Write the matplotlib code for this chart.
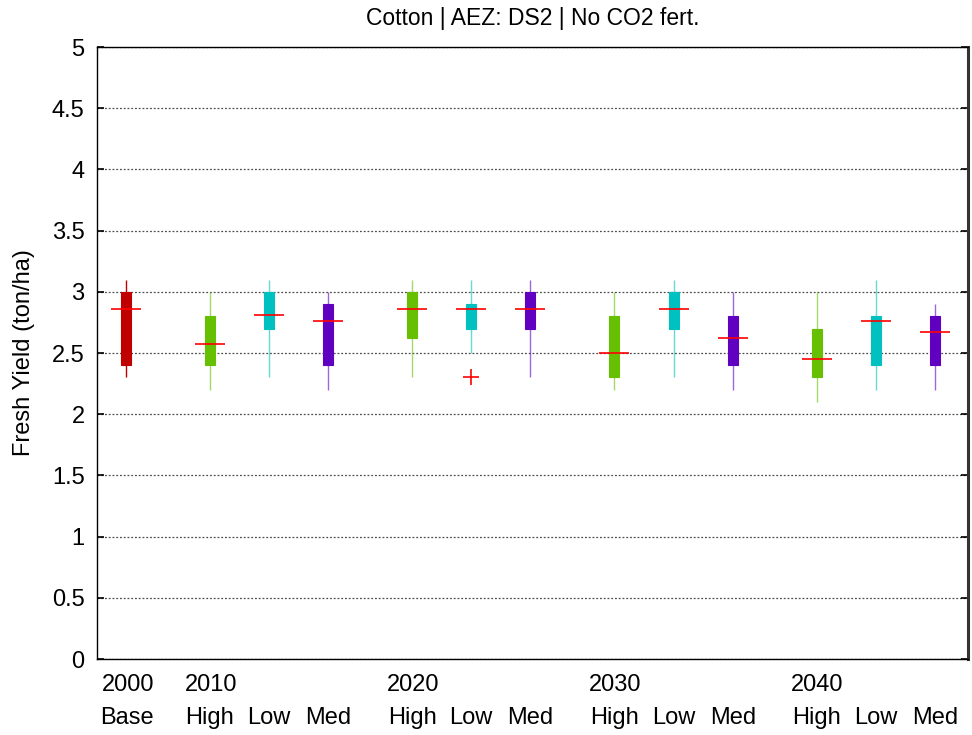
import matplotlib
matplotlib.use("Agg")
import matplotlib.pyplot as plt
from matplotlib.transforms import blended_transform_factory

plt.rcParams['font.family'] = ['Liberation Sans', 'DejaVu Sans']

# ---- data (ton/ha) ----
labels = ["Base", "High", "Low", "Med", "High", "Low", "Med",
          "High", "Low", "Med", "High", "Low", "Med"]
years = ["2000", "2010", "", "", "2020", "", "", "2030", "", "", "2040", "", ""]
whisker_low = [2.3, 2.2, 2.3, 2.2, 2.3, 2.5, 2.3, 2.2, 2.3, 2.2, 2.1, 2.2, 2.2]
q1 =          [2.4, 2.4, 2.7, 2.4, 2.62, 2.7, 2.7, 2.3, 2.7, 2.4, 2.3, 2.4, 2.4]
median =      [2.86, 2.57, 2.81, 2.76, 2.86, 2.86, 2.86, 2.5, 2.86, 2.62, 2.45, 2.76, 2.67]
q3 =          [3.0, 2.8, 3.0, 2.9, 3.0, 2.9, 3.0, 2.8, 3.0, 2.8, 2.7, 2.8, 2.8]
whisker_high = [3.1, 3.0, 3.1, 3.0, 3.1, 3.1, 3.1, 3.0, 3.1, 3.0, 3.0, 3.1, 2.9]
outlier_index = [5]
outlier_value = [2.3]

# ---- layout / style ----
scen_colors = {"Base": "#C00000", "High": "#66BF00", "Low": "#00C0C0", "Med": "#6000C0"}
base_pos = 28.7
group_start = 112.7
group_step = 202.3
item_step = 59.2
positions = [base_pos]
for g in range(4):
    for k in range(3):
        positions.append(group_start + g * group_step + k * item_step)

fig = plt.figure(figsize=(9.72, 7.35), dpi=100)
ax = fig.add_axes([97 / 972, 1 - 659 / 735, 871 / 972, 612 / 735])
ax.set_xlim(0, 871)
ax.set_ylim(0, 5)

fs = 17

box_w = 10
med_w = 30
for i, p in enumerate(positions):
    c = scen_colors[labels[i]]
    wa = 1.0 if labels[i] == "Base" else 0.6
    ax.vlines(p, whisker_low[i], whisker_high[i], color=c, alpha=wa, lw=1.0, zorder=3)
    ax.bar(p, q3[i] - q1[i], bottom=q1[i], width=box_w, color=c,
           edgecolor=c, linewidth=0.8, zorder=4)
    ax.hlines(median[i], p - med_w / 2, p + med_w / 2, color="#FF0000", lw=1.2, zorder=5)

for j, v in zip(outlier_index, outlier_value):
    ax.plot(positions[j], v, marker="+", color="#FF0000", markersize=11,
            markeredgewidth=1.2, linestyle="none", zorder=6)

# grid & ticks
yt = [0, 0.5, 1, 1.5, 2, 2.5, 3, 3.5, 4, 4.5, 5]
ax.set_yticks(yt)
ax.set_yticklabels(["0", "0.5", "1", "1.5", "2", "2.5", "3", "3.5", "4", "4.5", "5"], fontsize=fs)
ax.yaxis.grid(True, linestyle=(0, (1.5, 1.5)), color="#4d4d4d", linewidth=0.9)
ax.set_axisbelow(True)
ax.tick_params(axis="y", direction="in", length=5, width=1.2, right=True, left=True, pad=9)
ax.set_xticks([])

for s in ["left", "top", "bottom"]:
    ax.spines[s].set_linewidth(1.0)
ax.spines["right"].set_linewidth(2.2)
ax.spines["right"].set_color("#333333")

# x labels (two rows)
tr = blended_transform_factory(ax.transData, ax.transAxes)
for i, p in enumerate(positions):
    if years[i]:
        ax.text(p + (2 if i == 0 else 1), -0.0425, years[i], transform=tr,
                ha="center", va="center", fontsize=fs)
    ax.text(p + (1 if i == 0 else 0), -0.0964, labels[i], transform=tr,
            ha="center", va="center", fontsize=fs)

ax.text(0.5, 1.047, "Cotton | AEZ: DS2 | No CO2 fert.", transform=ax.transAxes,
        ha="center", va="center", fontsize=16.5)
ax.set_ylabel("Fresh Yield (ton/ha)", fontsize=fs)
ax.yaxis.set_label_coords(-0.071, 0.5)

fig.savefig("out.png", dpi=100)
